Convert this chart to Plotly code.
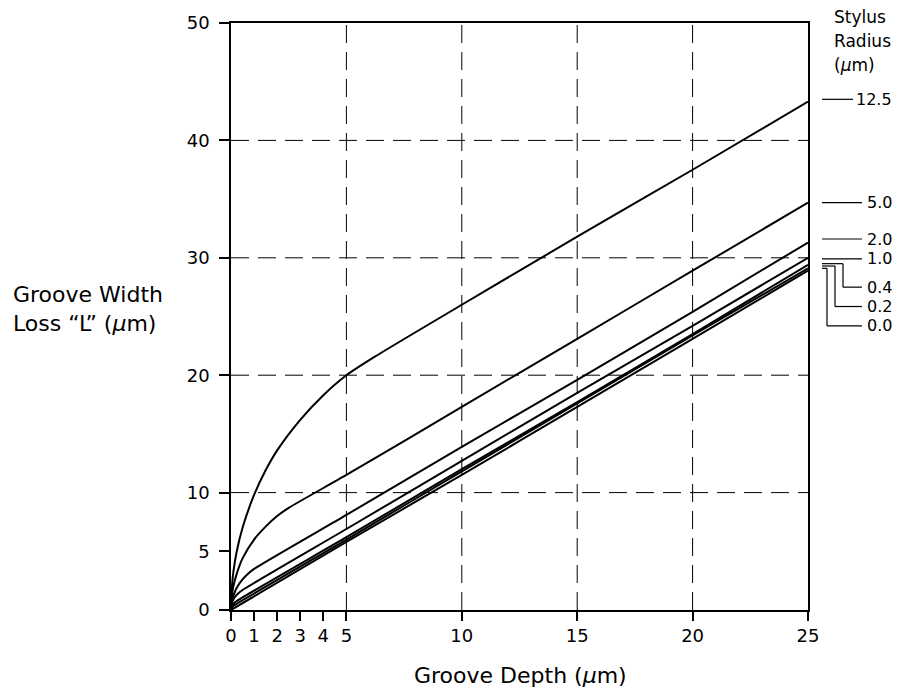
import plotly.graph_objects as go

# ---- data ----
radius_labels = ["12.5", "5.0", "2.0", "1.0", "0.4", "0.2", "0.0"]

d_125 = [0, 0.05, 0.1, 0.25, 0.5, 1, 1.5, 2, 3, 4, 5, 6.25, 10, 15, 20, 25]
L_125 = [0, 2.2, 3.2, 5.0, 7.0, 9.8, 11.9, 13.6, 16.2, 18.3, 20.0, 21.6, 26.0, 31.8, 37.5, 43.3]

d_50 = [0, 0.05, 0.1, 0.25, 0.5, 1, 1.5, 2, 2.5, 5, 10, 15, 20, 25]
L_50 = [0, 1.4, 2.0, 3.1, 4.4, 6.0, 7.1, 8.0, 8.7, 11.5, 17.3, 23.1, 28.9, 34.7]

d_20 = [0, 0.05, 0.1, 0.25, 0.5, 0.75, 1, 5, 10, 15, 20, 25]
L_20 = [0, 0.9, 1.2, 1.9, 2.6, 3.1, 3.5, 8.1, 13.9, 19.6, 25.4, 31.3]

d_10 = [0, 0.05, 0.1, 0.25, 0.5, 5, 10, 15, 20, 25]
L_10 = [0, 0.6, 0.9, 1.3, 1.7, 6.9, 12.7, 18.5, 24.2, 30.0]

d_04 = [0, 0.05, 0.1, 0.2, 5, 10, 15, 20, 25]
L_04 = [0, 0.4, 0.5, 0.7, 6.2, 12.0, 17.7, 23.5, 29.4]

d_02 = [0, 0.05, 0.1, 5, 10, 15, 20, 25]
L_02 = [0, 0.26, 0.35, 6.0, 11.8, 17.6, 23.4, 29.1]

d_00 = [0, 5, 10, 15, 20, 25]
L_00 = [0, 5.8, 11.5, 17.3, 23.1, 28.9]

# label positions (y, in L units) of the right-hand radius labels
label_y = [43.5, 34.7, 31.6, 29.9, 27.5, 25.85, 24.2]
# y where the leader leaves the curve end (for the bent leaders)
leader_start_y = [43.5, 34.7, 31.6, 29.9, 29.5, 29.3, 29.1]

x_ticks = [0, 1, 2, 3, 4, 5, 10, 15, 20, 25]
y_ticks = [0, 5, 10, 20, 30, 40, 50]
x_grid = [5, 10, 15, 20]
y_grid = [10, 20, 30, 40]

header_lines = ["Stylus", "Radius", "(<i>μ</i>m)"]

FONT = "DejaVu Sans, Liberation Sans, Arial, sans-serif"

series = [(d_125, L_125), (d_50, L_50), (d_20, L_20), (d_10, L_10),
          (d_04, L_04), (d_02, L_02), (d_00, L_00)]

# plot area in pixels: x 231..808, y 23..610
PL, PR, PT, PB = 231, 808, 23, 610
W, H = 902, 691


def px(p):
    return (p - PL) / float(PR - PL)


def py(p):
    return (PB - p) / float(PB - PT)


fig = go.Figure()
for (xs, ys), name in zip(series, radius_labels):
    fig.add_trace(go.Scatter(x=xs, y=ys, mode="lines", name=name,
                             line=dict(color="black", width=2, shape="spline", smoothing=0.6),
                             hoverinfo="x+y+name", showlegend=False))

shapes = []
dash = "18px,9px"
for gx in x_grid:
    shapes.append(dict(type="line", xref="x", yref="y", x0=gx, x1=gx, y0=0, y1=50,
                       line=dict(color="black", width=1, dash=dash), layer="below"))
for gy in y_grid:
    shapes.append(dict(type="line", xref="x", yref="y", x0=0, x1=25, y0=gy, y1=gy,
                       line=dict(color="black", width=1, dash=dash), layer="below"))

annotations = []
for i, (lab, ly, sy) in enumerate(zip(radius_labels, label_y, leader_start_y)):
    if i == 0:
        shapes.append(dict(type="line", xref="paper", yref="y", x0=px(822), x1=px(853),
                           y0=ly, y1=ly, line=dict(color="black", width=1.2)))
        tx = 855
    elif i <= 3:
        shapes.append(dict(type="line", xref="paper", yref="y", x0=px(822), x1=px(862),
                           y0=ly, y1=ly, line=dict(color="black", width=1.2)))
        tx = 866
    else:
        bend = {4: 843, 5: 835, 6: 827}[i]
        path_pts = [(822, sy), (bend, sy), (bend, ly), (862, ly)]
        for (ax, ay), (bx, by) in zip(path_pts[:-1], path_pts[1:]):
            shapes.append(dict(type="line", xref="paper", yref="y", x0=px(ax), x1=px(bx),
                               y0=ay, y1=by, line=dict(color="black", width=1.2)))
        tx = 866
    annotations.append(dict(text=lab, xref="paper", yref="y", x=px(tx), y=ly,
                            xanchor="left", yanchor="middle", showarrow=False, borderpad=0,
                            font=dict(family=FONT, size=16, color="black")))

for txt, cy in zip(header_lines, [17, 41, 65]):
    annotations.append(dict(text=txt, xref="paper", yref="paper",
                            x=px(832), y=py(cy), xanchor="left", yanchor="middle",
                            showarrow=False, font=dict(family=FONT, size=17, color="black")))
annotations.append(dict(text="Groove Width<br>Loss “L” (<i>μ</i>m)", xref="paper", yref="paper",
                        x=px(11), y=py(309), xanchor="left", yanchor="middle",
                        align="left", showarrow=False,
                        font=dict(family=FONT, size=22, color="black")))
annotations.append(dict(text="Groove Depth (<i>μ</i>m)", xref="paper", yref="paper",
                        x=px(520), y=py(675), xanchor="center", yanchor="middle",
                        showarrow=False, font=dict(family=FONT, size=22, color="black")))

fig.update_layout(
    width=W, height=H,
    margin=dict(l=PL, r=W - PR, t=PT, b=H - PB),
    paper_bgcolor="white", plot_bgcolor="white",
    font=dict(family=FONT, size=18, color="black"),
    shapes=shapes, annotations=annotations,
    xaxis=dict(range=[0, 25], tickvals=x_ticks, ticktext=[str(v) for v in x_ticks],
               showgrid=False, zeroline=False, showline=True, linecolor="black", linewidth=1.5,
               mirror=True, ticks="outside", ticklen=9, tickwidth=1.5, tickcolor="black",
               tickfont=dict(size=18)),
    yaxis=dict(range=[0, 50], tickvals=y_ticks, ticktext=[str(v) for v in y_ticks],
               showgrid=False, zeroline=False, showline=True, linecolor="black", linewidth=1.5,
               mirror=True, ticks="outside", ticklen=10, tickwidth=1.5, tickcolor="black",
               tickfont=dict(size=18), ticklabelstandoff=6),
)

fig.write_html("out.html", config={"displayModeBar": False},
               post_script="document.body.style.margin='0';document.body.style.overflow='hidden';")
